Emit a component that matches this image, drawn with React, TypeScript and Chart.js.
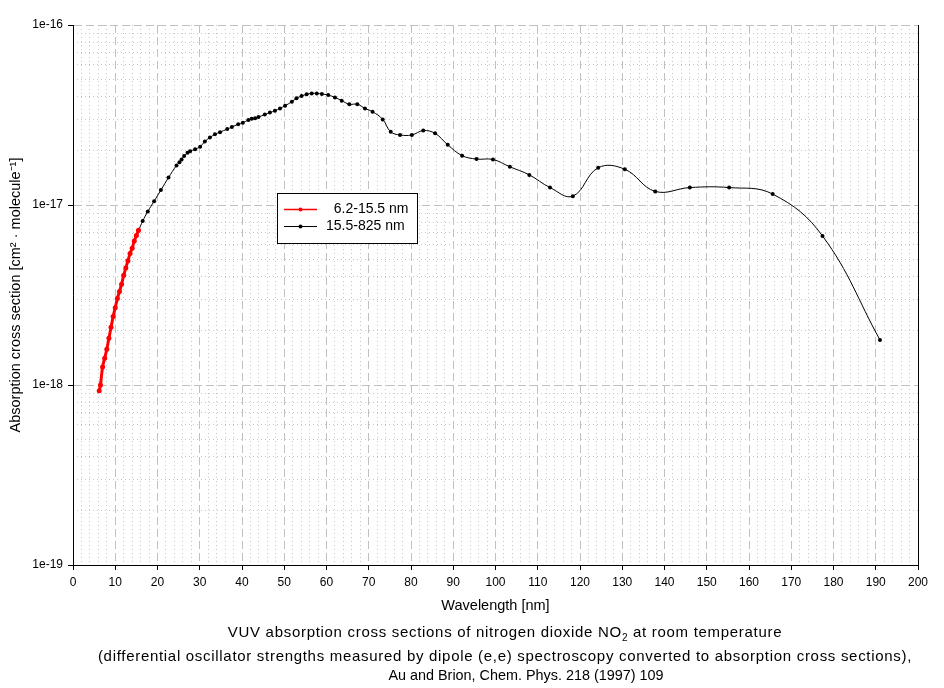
import { useEffect, useRef } from 'react';
import { Chart, registerables } from 'chart.js';

Chart.register(...registerables);

// ---- data ----
const RED_LABEL = '  6.2-15.5 nm';
const RED_WAVELENGTH = [6.2, 6.5, 7.0, 7.5, 8.0, 8.5, 9.0, 9.5, 10.0, 10.5, 11.0, 11.5, 12.0, 12.5, 13.0, 13.5, 14.0, 14.5, 15.0, 15.5];
const RED_SIGMA = [
  0.93e-18, 1.0e-18, 1.26e-18, 1.41e-18, 1.58e-18, 1.82e-18, 2.09e-18, 2.4e-18, 2.69e-18, 3.02e-18,
  3.31e-18, 3.63e-18, 4.07e-18, 4.47e-18, 4.9e-18, 5.37e-18, 5.75e-18, 6.31e-18, 6.76e-18, 7.24e-18,
];

const BLACK_LABEL = '15.5-825 nm';
const BLACK_WAVELENGTH = [
  15.5, 16.5, 17.7, 19.2, 20.8, 22.6, 24.5, 25.2, 25.7, 26.3, 27.1, 27.7, 28.9, 30.1, 31.2, 32.4, 33.6, 34.8,
  36.5, 37.6, 39.1, 40.2, 41.5, 42.3, 43.1, 43.9, 45.4, 46.6, 47.8, 49.0, 50.2, 51.8, 52.9, 54.1, 55.3, 56.5,
  57.7, 58.9, 60.4, 62.0, 63.6, 65.4, 67.3, 69.1, 70.9, 73.3, 75.2, 77.4, 80.2, 82.9, 85.7, 88.7, 92.1, 95.5,
  99.4, 103.4, 108.0, 112.9, 118.3, 124.3, 130.6, 137.8, 146.0, 155.3, 165.6, 177.4, 191.0,
];
const BLACK_SIGMA = [
  7.2e-18, 8.15e-18, 9.2e-18, 1.05e-17, 1.21e-17, 1.42e-17, 1.66e-17, 1.73e-17, 1.79e-17, 1.87e-17, 1.95e-17,
  1.99e-17, 2.04e-17, 2.11e-17, 2.25e-17, 2.37e-17, 2.47e-17, 2.54e-17, 2.64e-17, 2.71e-17, 2.81e-17, 2.86e-17,
  2.97e-17, 3.01e-17, 3.03e-17, 3.08e-17, 3.18e-17, 3.26e-17, 3.34e-17, 3.44e-17, 3.56e-17, 3.75e-17, 3.92e-17,
  4.03e-17, 4.12e-17, 4.17e-17, 4.17e-17, 4.14e-17, 4.08e-17, 3.96e-17, 3.8e-17, 3.63e-17, 3.63e-17, 3.44e-17,
  3.3e-17, 2.99e-17, 2.55e-17, 2.45e-17, 2.45e-17, 2.59e-17, 2.5e-17, 2.16e-17, 1.88e-17, 1.8e-17, 1.79e-17,
  1.63e-17, 1.47e-17, 1.25e-17, 1.12e-17, 1.61e-17, 1.58e-17, 1.19e-17, 1.25e-17, 1.25e-17, 1.15e-17,
  6.73e-18, 1.78e-18,
];

const X_MIN = 0;
const X_MAX = 200;
const X_STEP = 10;
const X_MINOR_STEP = 2;
const Y_TICKS = [1e-19, 1e-18, 1e-17, 1e-16];
const Y_TICK_LABELS = ['1e-19', '1e-18', '1e-17', '1e-16'];
const Y_MINOR_MULTIPLIERS = [2, 3, 4, 5, 6, 7, 8, 9];

const X_TITLE = 'Wavelength [nm]';
const Y_TITLE = 'Absorption cross section [cm\u00B2 \u00B7 molecule\u207B\u00B9]';
const CAPTION_1A = 'VUV absorption cross sections of nitrogen dioxide NO';
const CAPTION_1SUB = '2';
const CAPTION_1B = ' at room temperature';
const CAPTION_2 = '(differential oscillator strengths measured by dipole (e,e) spectroscopy converted to absorption cross sections),';
const CAPTION_3 = 'Au and Brion, Chem. Phys. 218 (1997) 109';

const FONT_FAMILY = '"Liberation Sans", Arial, Helvetica, sans-serif';

const legendPlugin = {
  id: 'boxLegend',
  afterDatasetsDraw(chart: any) {
    const ctx = chart.ctx as CanvasRenderingContext2D;
    ctx.save();
    const x0 = 277.5, y0 = 193.5, w = 140, h = 50;
    ctx.fillStyle = '#ffffff';
    ctx.fillRect(x0, y0, w, h);
    ctx.strokeStyle = '#000000';
    ctx.lineWidth = 1;
    ctx.setLineDash([]);
    ctx.strokeRect(x0, y0, w, h);
    const widths = [1.5, 1];
    chart.data.datasets.forEach((ds: any, i: number) => {
      const y = 209.5 + i * 17;
      ctx.strokeStyle = ds.borderColor;
      ctx.lineWidth = widths[i];
      ctx.beginPath();
      ctx.moveTo(284, y);
      ctx.lineTo(317, y);
      ctx.stroke();
      ctx.fillStyle = ds.borderColor;
      ctx.beginPath();
      ctx.arc(300.5, y, 2, 0, Math.PI * 2);
      ctx.fill();
      ctx.fillStyle = '#000000';
      ctx.font = `14px ${FONT_FAMILY}`;
      ctx.textBaseline = 'middle';
      ctx.textAlign = 'left';
      ctx.fillText(ds.label, 326, y);
    });
    ctx.restore();
  },
};

const captionPlugin = {
  id: 'caption',
  afterDraw(chart: any) {
    const ctx = chart.ctx as any;
    ctx.save();
    ctx.fillStyle = '#000000';
    ctx.textBaseline = 'middle';
    ctx.textAlign = 'left';
    const big = `15px ${FONT_FAMILY}`;
    const small = `10px ${FONT_FAMILY}`;
    ctx.letterSpacing = '0.7px';
    ctx.font = big;
    const wA = ctx.measureText(CAPTION_1A).width;
    const wB = ctx.measureText(CAPTION_1B).width;
    ctx.font = small;
    const wS = ctx.measureText(CAPTION_1SUB).width;
    const cx = 505;
    let x = cx - (wA + wS + wB) / 2;
    const y1 = 633;
    ctx.font = big;
    ctx.fillText(CAPTION_1A, x, y1);
    x += wA;
    ctx.font = small;
    ctx.fillText(CAPTION_1SUB, x, y1 + 5);
    x += wS;
    ctx.font = big;
    ctx.fillText(CAPTION_1B, x, y1);
    ctx.textAlign = 'center';
    ctx.fillText(CAPTION_2, cx, 657);
    ctx.letterSpacing = '0px';
    ctx.font = `14.4px ${FONT_FAMILY}`;
    ctx.fillText(CAPTION_3, 526, 676);
    ctx.restore();
  },
};

export default function App() {
  const canvasRef = useRef<HTMLCanvasElement | null>(null);

  useEffect(() => {
    if (!canvasRef.current) return;
    Chart.defaults.font.family = FONT_FAMILY;
    Chart.defaults.color = '#000000';
    const tickFont = { family: FONT_FAMILY, size: 12 };
    const titleFont = { family: FONT_FAMILY, size: 14.5 };

    const minorX: number[] = [];
    for (let v = X_MIN; v <= X_MAX; v += X_MINOR_STEP) {
      if (v % X_STEP !== 0) minorX.push(v);
    }
    const minorY: number[] = [];
    for (let k = 0; k < Y_TICKS.length - 1; k++) {
      Y_MINOR_MULTIPLIERS.forEach((m) => minorY.push(m * Y_TICKS[k]));
    }

    const chart = new Chart(canvasRef.current, {
      type: 'line',
      data: {
        datasets: [
          {
            label: RED_LABEL,
            data: RED_WAVELENGTH.map((x, i) => ({ x, y: RED_SIGMA[i] })),
            borderColor: '#ff0000',
            backgroundColor: '#ff0000',
            borderWidth: 3,
            pointRadius: 2.5,
            pointBorderWidth: 0,
            tension: 0.3,
            xAxisID: 'x',
            yAxisID: 'y',
          },
          {
            label: BLACK_LABEL,
            data: BLACK_WAVELENGTH.map((x, i) => ({ x, y: BLACK_SIGMA[i] })),
            borderColor: '#000000',
            backgroundColor: '#000000',
            borderWidth: 1,
            pointRadius: 2,
            pointBorderWidth: 0,
            tension: 0.4,
            xAxisID: 'x',
            yAxisID: 'y',
          },
        ],
      },
      options: {
        responsive: false,
        animation: false,
        events: [],
        layout: { padding: { top: 25, right: 26, bottom: 68, left: 0 } },
        plugins: {
          legend: { display: false },
          tooltip: { enabled: false },
          title: { display: false },
        },
        scales: {
          x: {
            type: 'linear',
            position: 'bottom',
            min: X_MIN,
            max: X_MAX,
            ticks: { stepSize: X_STEP, font: tickFont, color: '#000', padding: 5, maxRotation: 0, autoSkip: false },
            grid: { color: '#c0c0c0', lineWidth: 1, tickLength: 5, tickColor: '#000', tickWidth: 1 },
            border: { display: true, color: '#000', width: 1, dash: [8, 4] },
            title: { display: true, text: X_TITLE, font: titleFont, color: '#000', padding: { top: 0, bottom: 5 } },
            afterFit: (s: any) => { s.height = 55; },
          },
          x2: {
            type: 'linear',
            position: 'bottom',
            min: X_MIN,
            max: X_MAX,
            afterBuildTicks: (s: any) => { s.ticks = minorX.map((v) => ({ value: v })); },
            ticks: { display: false },
            grid: { color: '#c8c8c8', lineWidth: 1, drawTicks: false },
            border: { display: false, dash: [1, 3] },
            afterFit: (s: any) => { s.height = 0; },
          },
          y: {
            type: 'logarithmic',
            position: 'left',
            min: Y_TICKS[0],
            max: Y_TICKS[Y_TICKS.length - 1],
            afterBuildTicks: (s: any) => { s.ticks = Y_TICKS.map((v) => ({ value: v })); },
            ticks: {
              font: tickFont,
              color: '#000',
              padding: 5,
              autoSkip: false,
              callback: (_v: any, i: number) => Y_TICK_LABELS[i],
            },
            grid: { color: '#c0c0c0', lineWidth: 1, tickLength: 5, tickColor: '#000', tickWidth: 1 },
            border: { display: true, color: '#000', width: 1, dash: [8, 4] },
            title: { display: true, text: Y_TITLE, font: titleFont, color: '#000', padding: { top: 7, bottom: 0 } },
            afterFit: (s: any) => { s.width = 73; },
          },
          y2: {
            type: 'logarithmic',
            position: 'left',
            min: Y_TICKS[0],
            max: Y_TICKS[Y_TICKS.length - 1],
            afterBuildTicks: (s: any) => { s.ticks = minorY.map((v) => ({ value: v })); },
            ticks: { display: false },
            grid: { color: '#c8c8c8', lineWidth: 1, drawTicks: false },
            border: { display: false, dash: [1, 3] },
            afterFit: (s: any) => { s.width = 0; },
          },
          yR: {
            type: 'linear',
            position: 'right',
            min: 0,
            max: 1,
            ticks: { display: false },
            grid: { display: false, drawTicks: false },
            border: { display: true, color: '#000', width: 1 },
            afterFit: (s: any) => { s.width = 0; },
          },
        },
      } as any,
      plugins: [legendPlugin, captionPlugin],
    });

    return () => chart.destroy();
  }, []);

  return (
    <div style={{ position: 'absolute', left: 0, top: 0, width: 944, height: 688, background: '#fff' }}>
      <canvas ref={canvasRef} width={944} height={688} />
    </div>
  );
}
